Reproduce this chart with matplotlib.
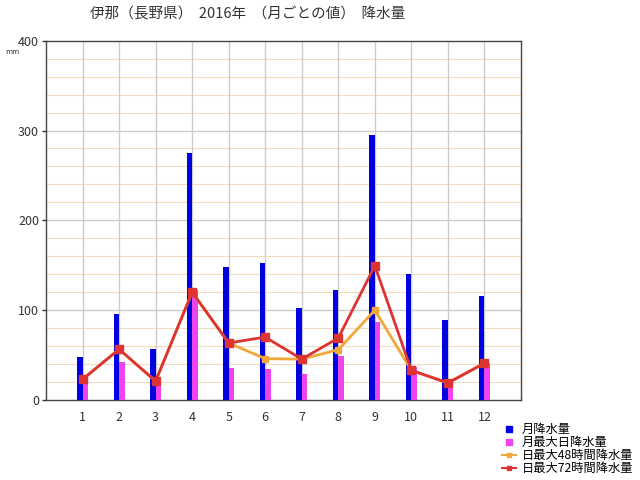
import matplotlib
matplotlib.use("Agg")
import matplotlib.pyplot as plt
from matplotlib.lines import Line2D
import numpy as np

plt.rcParams['font.family'] = ['Noto Sans CJK JP', 'DejaVu Sans']

months = [1, 2, 3, 4, 5, 6, 7, 8, 9, 10, 11, 12]
month_labels = ['1', '2', '3', '4', '5', '6', '7', '8', '9', '10', '11', '12']
monthly_total = [48, 95.5, 57, 275.5, 148, 152.5, 102.5, 122.5, 295, 140, 89, 116]
max_daily = [22, 42.5, 21, 123, 36, 35, 29, 49.5, 87, 36.5, 19.5, 41]
max_48h = [23, 56.5, 21, 120, 63.5, 46, 45.5, 56, 100, 33, 19, 41]
max_72h = [23, 56.5, 21, 120, 63.5, 70, 45.5, 69, 149.5, 33, 19, 41]

names = ['月降水量', '月最大日降水量', '日最大48時間降水量', '日最大72時間降水量']
c_blue = '#0000e0'
c_mag = '#ee44ee'
c_org = '#f0a83c'
c_red = '#dd3333'

fig = plt.figure(figsize=(6.4, 4.8), dpi=100)
ax = fig.add_axes([46/640, 1-400/480, 475/640, 359.3/480])

x = np.array(months, dtype=float)
w = 0.15
ax.bar(x - w/2, monthly_total, width=w, color=c_blue, zorder=3)
ax.bar(x + w/2, max_daily, width=w, color=c_mag, zorder=3)
ax.plot(x, max_48h, color=c_org, lw=2, marker='s', ms=4, zorder=4)
ax.plot(x, max_72h, color=c_red, lw=2, marker='s', ms=6, zorder=5)

ax.set_xlim(0, 13)
ax.set_ylim(0, 400)
ax.set_xticks(months)
ax.set_xticklabels(month_labels)
ax.set_yticks([0, 100, 200, 300, 400])
for yv in np.arange(20, 400, 20):
    if yv % 100 != 0:
        ax.axhline(yv, color='#f3dcc0', lw=0.8, zorder=1)
for yv in [100, 200, 300]:
    ax.axhline(yv, color='#cccccc', lw=1, zorder=1)
for xv in range(1, 13):
    ax.axvline(xv, color='#cccccc', lw=1, zorder=1)
ax.tick_params(axis='x', length=0, pad=8, labelsize=9, colors='#333333')
ax.tick_params(axis='y', which='major', length=3, width=1, labelsize=9, colors='#333333', pad=2)
for s in ax.spines.values():
    s.set_color('#444444')
    s.set_linewidth(1)

fig.text(5/640, 1-52/480, 'mm', fontsize=5.5, ha='left', va='center', color='#333333')
fig.text(90/640, 1-15/480, '伊那（長野県）  2016年  （月ごとの値）  降水量',
         fontsize=10.5, ha='left', va='center', color='#333333')

handles = [
    Line2D([], [], ls='none', marker='s', ms=4.5, color=c_blue),
    Line2D([], [], ls='none', marker='s', ms=4.5, color=c_mag),
    Line2D([], [], color=c_org, lw=1.5, marker='s', ms=2.5),
    Line2D([], [], color=c_red, lw=1.5, marker='s', ms=2.5),
]
fig.legend(handles, names, loc='upper left', bbox_to_anchor=(502/640, 1-423/480),
           frameon=False, fontsize=8.8, handlelength=1.15, handletextpad=0.5,
           labelspacing=0.0, borderpad=0, borderaxespad=0)

fig.savefig('out.png', dpi=100)
